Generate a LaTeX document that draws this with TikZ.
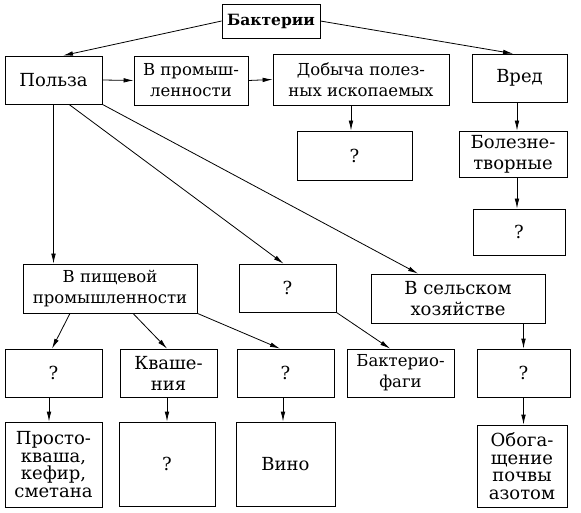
\documentclass[tikz,border=0pt]{standalone}
\usepackage{fontspec}
\setmainfont{DejaVu Serif}
\usetikzlibrary{arrows.meta}

\begin{document}
\begin{tikzpicture}[x=1pt, y=-1pt, line width=0.8pt,
	bx/.style={draw, rectangle, inner sep=0pt, align=center,
		font=\fontsize{18}{21}\selectfont},
	slim/.style={bx, font=\fontsize{16.5}{21}\selectfont},
	tall/.style={bx, font=\fontsize{18}{17.5}\selectfont},
	arr/.style={-{Latex[length=10pt,width=4.6pt]}}]
	\useasboundingbox (0,0) rectangle (581,513);
	% top
	\node[bx, minimum width=98, minimum height=34, font=\bfseries\fontsize{15.5}{18}\selectfont] (bakt) at (271,21) {Бактерии};
	\node[bx, minimum width=97, minimum height=48] (polza) at (53.5,80) {Польза};
	\node[slim, minimum width=114, minimum height=49] (prom) at (191,80.5) {В промыш-\\ленности};
	\node[slim, minimum width=176, minimum height=51] (dob) at (361,79.5) {Добыча полез-\\ных ископаемых};
	\node[bx, minimum width=95, minimum height=48] (vred) at (519.5,78) {Вред};
	\node[bx, minimum width=115, minimum height=49] (q1) at (354.5,155.5) {?};
	\node[bx, minimum width=108, minimum height=46] (bol) at (513,154) {Болезне-\\творные};
	\node[bx, minimum width=92, minimum height=46] (q2) at (519,232) {?};
	% middle
	\node[slim, minimum width=174, minimum height=49] (pisch) at (110,288.5) {В пищевой\\промышленности};
	\node[bx, minimum width=97, minimum height=48] (q3) at (287.5,288) {?};
	\node[bx, minimum width=174, minimum height=49] (selsk) at (458,298.5) {В сельском\\хозяйстве};
	\node[bx, minimum width=97, minimum height=48] (q4) at (53.5,373) {?};
	\node[bx, minimum width=97, minimum height=48] (kvash) at (168.5,373) {Кваше-\\ния};
	\node[bx, minimum width=97, minimum height=48] (q5) at (285.5,373) {?};
	\node[slim, minimum width=107, minimum height=48] (fagi) at (400.5,373) {Бактерио-\\фаги};
	\node[bx, minimum width=93, minimum height=48] (q6) at (523.5,373) {?};
	% bottom
	\node[tall, minimum width=97, minimum height=85] (prosto) at (53.5,464.5) {Просто-\\кваша,\\кефир,\\сметана};
	\node[tall, minimum width=96, minimum height=84] (q7) at (167,464) {?};
	\node[tall, minimum width=99, minimum height=84] (vino) at (285.5,464) {Вино};
	\node[tall, minimum width=90, minimum height=82] (obog) at (522,466) {Обога-\\щение\\почвы\\азотом};

	\draw[arr] (bakt.west) to ([xshift=9.5pt]polza.north);
	\draw[arr] (bakt.east) to ([xshift=-6.5pt]vred.north);
	\draw[arr] (polza.east) to (prom.west);
	\draw[arr] (prom.east) to (dob.west);
	\draw[arr] ([xshift=-10pt]dob.south) to ([xshift=-10pt]dob.south |- q1.north);
	\draw[arr] ([xshift=-2.5pt]vred.south) to ([xshift=-2.5pt]vred.south |- bol.north);
	\draw[arr] ([xshift=4pt]bol.south) to ([xshift=4pt]bol.south |- q2.north);
	\draw[arr] (polza.south) to (polza.south |- pisch.north);
	\draw[arr] ([xshift=15.5pt]polza.south) to ([xshift=-4pt]q3.north);
	\draw[arr] (polza.south east) to ([xshift=-40pt]selsk.north);
	\draw[arr] (q3.south east) to ([xshift=-10.5pt]fagi.north);
	\draw[arr] (q6.north |- selsk.south) to (q6.north);
	\draw[arr] (q6.south) to (q6.south |- obog.north);
	\draw[arr] ([xshift=-40pt]pisch.south) to ([xshift=-1.5pt]q4.north);
	\draw[arr] ([xshift=23pt]pisch.south) to ([xshift=-1.5pt]kvash.north);
	\draw[arr] (pisch.south east) to ([xshift=-5.5pt]q5.north);
	\draw[arr] ([xshift=-4.5pt]q4.south) to ([xshift=-4.5pt]q4.south |- prosto.north);
	\draw[arr] (q7.north |- kvash.south) to (q7.north);
	\draw[arr] ([xshift=-2.5pt]q5.south) to ([xshift=-2.5pt]q5.south |- vino.north);
\end{tikzpicture}
\end{document}
